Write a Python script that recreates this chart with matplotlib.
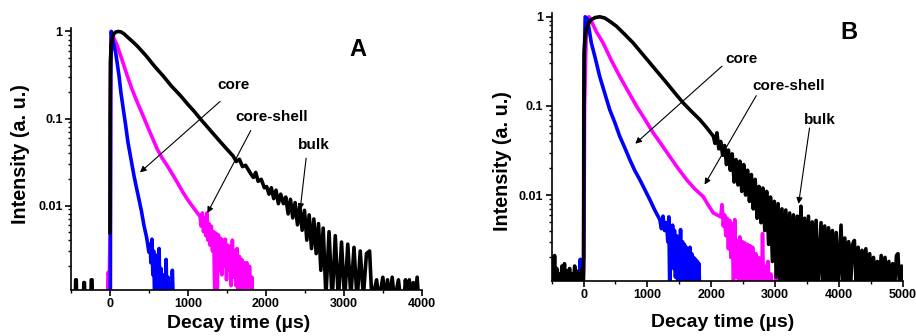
import numpy as np
import matplotlib
matplotlib.use("Agg")
import matplotlib.pyplot as plt
from matplotlib.ticker import FixedLocator, NullFormatter

plt.rcParams['font.family'] = ['Liberation Sans', 'DejaVu Sans']
plt.rcParams['font.weight'] = 'bold'

nan = np.nan

# ---- panel A: decay curves (time in us, normalised intensity) ----
core_A_t = [-10, 5, 10, 17, 30, 50, 73, 95, 116, 140, 171, 200, 231, 270, 308, 340,
            372, 405, 436, 470, 500, 515, 525, 539, 550, 560, 572, 585, 595, 607, 618,
            630, 640, 652, 665, 680, 692, 704, 712, 720, 730, 745, 760, 790, 800, 812]
core_A_I = [0.0008, 0.0008, 0.3, 1.0, 0.85, 0.7, 0.57, 0.42, 0.31, 0.2, 0.128, 0.085,
            0.053, 0.034, 0.022, 0.016, 0.0118, 0.0085, 0.0059, 0.0043, 0.0029, 0.0036,
            0.0022, 0.0041, 0.0016, 0.0030, 0.0009, 0.0027, 0.0012, 0.0026, 0.0008,
            0.0032, 0.0008, 0.0019, 0.0008, 0.0016, 0.0008, 0.0013, 0.0008, 0.0024,
            0.0008, 0.0015, 0.0008, 0.0008, 0.0018, 0.0008]

shell_A_t = [-30, -25, -8, -3, 3, 8, 15, 25, 40, 60, 94, 130, 170, 222, 280, 351, 420,
             479, 540, 607, 670, 736, 800, 864, 930, 993, 1050, 1100, 1155,
             1170, 1185, 1200, 1215, 1230, 1242, 1255, 1270, 1284, 1300, 1315, 1330,
             1345, 1360, 1375, 1390, 1405, 1420, 1435, 1450, 1465, 1480, 1495, 1510,
             1525, 1540, 1555, 1570, 1583, 1600, 1615, 1630, 1645, 1660, 1675, 1690,
             1705, 1720, 1735, 1755, 1770, 1790, 1805, 1820, 1830]
shell_A_I = [0.0008, 0.0017, 0.0015, 0.0030, 0.005, 0.4, 1.0, 0.97, 0.88, 0.8, 0.685,
             0.55, 0.43, 0.31, 0.22, 0.153, 0.11, 0.082, 0.061, 0.0444, 0.035, 0.0286,
             0.023, 0.0184, 0.0145, 0.0118, 0.0100, 0.0087, 0.0075,
             0.0058, 0.0082, 0.0050, 0.0072, 0.0045, 0.0082, 0.0040, 0.0062, 0.0035,
             0.0058, 0.0030, 0.0050, 0.0009, 0.0048, 0.0009, 0.0046, 0.0018, 0.0042,
             0.0016, 0.0040, 0.0020, 0.0041, 0.0014, 0.0035, 0.0018, 0.0034, 0.0012,
             0.0040, 0.0015, 0.0030, 0.0012, 0.0032, 0.0011, 0.0026, 0.0010, 0.0024,
             0.0009, 0.0022, 0.0009, 0.0022, 0.0009, 0.0020, 0.0009, 0.0015, 0.0008]

bulk_A_t = [-500, -445, -440, -432, -428, -340, -335, -327, -322, -245, -240, -230, -225,
            -100, 0, 2, 6, 15, 30, 50, 75, 105, 140, 180, 214, 280, 350, 460, 570, 680,
            790, 900, 1000, 1080, 1155, 1260, 1370, 1475, 1580,
            1620, 1660, 1700, 1740, 1800, 1840, 1870, 1900, 1940, 1980, 2010, 2040,
            2070, 2100, 2130, 2160, 2190, 2225, 2255, 2285, 2315, 2345, 2375, 2405,
            2435, 2465, 2495, 2525, 2555, 2585, 2615, 2645, 2675, 2705, 2735, 2770,
            2810, 2850, 2890, 2930, 2970, 3010, 3050, 3090, 3130, 3170, 3210, 3250,
            3290, 3330, 3360, 3420, 3450, 3500, 3530, 3560, 3590, 3620, 3650, 3700,
            3730, 3770, 3790, 3810, 3840, 3860, 3890, 3910, 3940, 3960]
bulk_A_I = [0.0008, 0.0008, 0.0014, 0.0014, 0.0008, 0.0008, 0.0013, 0.0013, 0.0008,
            0.0008, 0.0014, 0.0014, 0.0008,
            nan, 0.0049, 0.1, 0.45, 0.7, 0.85, 0.94, 0.985, 1.0, 0.99, 0.94, 0.88,
            0.78, 0.68, 0.53, 0.40, 0.31, 0.235, 0.185, 0.145, 0.121, 0.10, 0.078,
            0.060, 0.047, 0.037,
            0.032, 0.034, 0.028, 0.029, 0.0236, 0.021, 0.024, 0.019, 0.020, 0.016,
            0.0165, 0.0135, 0.016, 0.012, 0.015, 0.0105, 0.0135, 0.0105, 0.0125,
            0.0080, 0.0118, 0.0072, 0.0108, 0.0060, 0.0098, 0.0052, 0.0088, 0.0040,
            0.0078, 0.0032, 0.0070, 0.0028, 0.0062, 0.0018, 0.0055, 0.0009, 0.0050,
            0.0008, 0.0045, 0.0008, 0.0038, 0.0008, 0.0036, 0.0009, 0.0033, 0.0008,
            0.0030, 0.0009, 0.0028, 0.0030, 0.0008, 0.0014, 0.0008, 0.0015, 0.0008,
            0.0014, 0.0008, 0.0015, 0.0008, 0.0014, 0.0008, 0.0008, 0.0014, 0.0008,
            0.0014, 0.0008, 0.0013, 0.0008, 0.0015, 0.0008]

# ---- panel B ----
core_B_t = [-100, -60, -52, -45, -20, 0, 10, 25, 60, 90, 121, 180, 252, 330, 409, 490,
            566, 645, 724, 800, 881, 960, 1038, 1115, 1195, 1220, 1245, 1270, 1300,
            1320, 1336, 1350, 1365, 1380, 1395, 1410, 1425, 1440, 1458, 1475, 1490,
            1505, 1520, 1535, 1550, 1565, 1580, 1595, 1610, 1625, 1640, 1655, 1667,
            1680, 1695, 1710, 1725, 1740, 1755, 1770, 1785, 1800, 1808, 1820]
core_B_I = [0.0008, 0.0008, 0.0019, 0.0008, 0.0015, 0.002, 0.3, 1.0, 0.95, 0.7, 0.51,
            0.35, 0.215, 0.14, 0.091, 0.065, 0.0457, 0.034, 0.025, 0.019, 0.0149,
            0.0115, 0.0089, 0.0068, 0.0053, 0.0042, 0.0058, 0.0040, 0.0049, 0.0030,
            0.0057, 0.0009, 0.0045, 0.0020, 0.0046, 0.0015, 0.0040, 0.0012, 0.0035,
            0.0011, 0.0033, 0.0013, 0.0041, 0.0010, 0.0030, 0.0011, 0.0028, 0.0009,
            0.0026, 0.0011, 0.0024, 0.0009, 0.0026, 0.0010, 0.0022, 0.0009, 0.0020,
            0.0009, 0.0019, 0.0009, 0.0018, 0.0009, 0.0017, 0.0008]

shell_B_t = [-10, 5, 15, 40, 70, 84, 120, 200, 305, 430, 566, 700, 828, 960, 1091, 1220,
             1352, 1480, 1614, 1740, 1876, 1950, 2034, 2090, 2149, 2170, 2190, 2210,
             2230, 2250, 2270, 2290, 2310, 2330, 2350, 2370, 2390, 2412, 2430, 2450,
             2470, 2490, 2510, 2530, 2550, 2570, 2590, 2610, 2630, 2650, 2673, 2700,
             2720, 2740, 2760, 2790, 2805, 2820, 2850, 2870, 2890, 2910, 2936, 2960,
             3000, 3020, 3040, 3060, 3075]
shell_B_I = [0.0008, 0.002, 0.1, 0.6, 0.95, 1.0, 0.9, 0.68, 0.51, 0.33, 0.215, 0.145,
             0.10, 0.071, 0.05, 0.037, 0.027, 0.020, 0.0149, 0.0118, 0.0096, 0.0078,
             0.0063, 0.0060, 0.0057, 0.0078, 0.0045, 0.0060, 0.0035, 0.0055, 0.0025,
             0.0052, 0.0020, 0.0048, 0.0009, 0.0053, 0.0012, 0.0031, 0.0009, 0.0034,
             0.0010, 0.0030, 0.0009, 0.0029, 0.0009, 0.0028, 0.0009, 0.0027, 0.0009,
             0.0026, 0.0009, 0.0022, 0.0009, 0.0020, 0.0009, 0.0009, 0.0037, 0.0009,
             0.0016, 0.0009, 0.0018, 0.0009, 0.0013, 0.0008, 0.0008, 0.0014, 0.0008,
             0.0014, 0.0008]

bulk_B_t = [-500, -485, -470, -455, -440, -420, -400, -380, -360, -340, -320, -300,
            -280, -260, -240, -220, -200, -180, -160, -140, -120, -100, -80, -60, -40,
            -20, -5, 0, 3, 8, 20, 42, 80, 121, 180, 252, 330, 420, 514, 640, 776, 900,
            1038, 1170, 1300, 1430, 1562, 1690, 1824, 1930, 2034,
            2060, 2090, 2120, 2149, 2180, 2210, 2240, 2270, 2300, 2330, 2360, 2390,
            2420, 2450, 2480, 2510, 2540, 2570, 2600, 2630, 2660, 2690, 2720, 2750,
            2780, 2810, 2840, 2870, 2900, 2930, 2960, 2990, 3020, 3050, 3080, 3110,
            3140, 3170, 3198, 3230, 3260, 3290, 3320, 3350, 3380, 3407, 3435, 3465,
            3495, 3525, 3555, 3585, 3615, 3645, 3675, 3722, 3750, 3780, 3810, 3840,
            3870, 3900, 3930, 3960, 3990, 4036, 4065, 4095, 4125, 4155, 4185, 4215,
            4245, 4275, 4305, 4335, 4365, 4395, 4425, 4455, 4485, 4515, 4545, 4575,
            4605, 4635, 4665, 4695, 4725, 4755, 4785, 4815, 4845, 4875, 4905, 4928,
            4955, 4985, 5000]
bulk_B_I = [0.0009, 0.0020, 0.0010, 0.0021, 0.0009, 0.0015, 0.0009, 0.0013, 0.0009,
            0.0016, 0.0010, 0.0017, 0.0009, 0.0014, 0.0010, 0.0015, 0.0009, 0.0013,
            0.0010, 0.0016, 0.0009, 0.0014, 0.0010, 0.0013, 0.0009, 0.0015, 0.0010,
            0.0015, 0.1, 0.4, 0.55, 0.72, 0.85, 0.93, 0.98, 1.0, 0.97, 0.88, 0.785,
            0.64, 0.51, 0.40, 0.304, 0.235, 0.182, 0.14, 0.108, 0.087, 0.070, 0.057,
            0.0457,
            0.038, 0.050, 0.033, 0.040, 0.028, 0.036, 0.022, 0.032, 0.019, 0.029,
            0.014, 0.025, 0.013, 0.024, 0.011, 0.022, 0.010, 0.019, 0.0085, 0.017,
            0.0070, 0.015, 0.0055, 0.0125, 0.0049, 0.012, 0.0040, 0.011, 0.0028,
            0.0095, 0.0018, 0.0085, 0.0012, 0.0080, 0.0010, 0.0070, 0.0009, 0.0068,
            0.0009, 0.0063, 0.0009, 0.0060, 0.0009, 0.0058, 0.0009, 0.0075, 0.0009,
            0.0055, 0.0009, 0.0058, 0.0009, 0.0050, 0.0009, 0.0052, 0.0009, 0.0049,
            0.0009, 0.0045, 0.0009, 0.0043, 0.0009, 0.0040, 0.0009, 0.0038, 0.0009,
            0.0046, 0.0009, 0.0033, 0.0009, 0.0030, 0.0009, 0.0028, 0.0031, 0.0009,
            0.0026, 0.0009, 0.0024, 0.0009, 0.0025, 0.0009, 0.0022, 0.0009, 0.0020,
            0.0009, 0.0018, 0.0009, 0.0021, 0.0009, 0.0020, 0.0009, 0.0018, 0.0009,
            0.0017, 0.0009, 0.0021, 0.0022, 0.0009, 0.0016, 0.0009]


def style_axes(ax, xmax, ymin):
    ax.set_yscale('log')
    ax.set_xlim(-500, xmax)
    ax.set_ylim(ymin, 1.1)
    ax.spines['top'].set_visible(False)
    ax.spines['right'].set_visible(False)
    ax.spines['left'].set_linewidth(1.2)
    ax.spines['bottom'].set_linewidth(1.2)
    ax.set_yticks([0.01, 0.1, 1])
    ax.set_yticklabels(['0.01', '0.1', '1'])
    minors = [m * 10.0 ** e for e in (-3, -2, -1) for m in range(2, 10)]
    ax.yaxis.set_minor_locator(FixedLocator(minors))
    ax.yaxis.set_minor_formatter(NullFormatter())
    ax.set_xticks(np.arange(0, xmax + 1, 1000))
    ax.xaxis.set_minor_locator(FixedLocator(np.arange(-500, xmax + 1, 500)))
    ax.tick_params(which='major', direction='out', length=4, width=1.2,
                   labelsize=9, pad=2)
    ax.tick_params(which='minor', direction='out', length=2.5, width=1.0)
    for lab in ax.get_xticklabels() + ax.get_yticklabels():
        lab.set_fontweight('bold')


def arrow(ax, start, tip):
    ax.annotate('', xy=tip, xytext=start,
                arrowprops=dict(arrowstyle='-|>', color='black', lw=0.8,
                                mutation_scale=9, shrinkA=0, shrinkB=0))


fig = plt.figure(figsize=(9.16, 3.36), dpi=100)
axA = fig.add_axes([0.0775, 0.137, 0.383, 0.780])
axB = fig.add_axes([0.6023, 0.164, 0.383, 0.797])

lw = 2.6
axA.plot(shell_A_t, shell_A_I, color='#ff00ff', lw=lw)
axA.plot(core_A_t, core_A_I, color='#0000ff', lw=lw)
axA.plot(bulk_A_t, bulk_A_I, color='black', lw=lw)
style_axes(axA, 4000, 0.00107)

axB.plot(shell_B_t, shell_B_I, color='#ff00ff', lw=lw)
axB.plot(core_B_t, core_B_I, color='#0000ff', lw=lw)
axB.plot(bulk_B_t, bulk_B_I, color='black', lw=lw)
style_axes(axB, 5000, 0.00109)

for ax in (axA, axB):
    ax.set_xlabel('Decay time (µs)', fontsize=14, fontweight='bold')
    ax.set_ylabel('Intensity (a. u.)', fontsize=14.2, fontweight='bold')
axA.xaxis.set_label_coords(0.478, -0.095)
axA.yaxis.set_label_coords(-0.117, 0.52)
axB.xaxis.set_label_coords(0.486, -0.122)
axB.yaxis.set_label_coords(-0.114, 0.449)

tkw = dict(ha='center', va='center', fontsize=11, fontweight='bold')
axA.text(3180, 0.62, 'A', ha='center', va='center', fontsize=17, fontweight='bold')
axA.text(1580, 0.244, 'core', **tkw)
axA.text(2080, 0.105, 'core-shell', **tkw)
axA.text(2610, 0.049, 'bulk', **tkw)
arrow(axA, (1412, 0.157), (385, 0.024))
arrow(axA, (1806, 0.0728), (1249, 0.00818))
arrow(axA, (2516, 0.035), (2439, 0.0089))

axB.text(4154, 0.66, 'B', ha='center', va='center', fontsize=17, fontweight='bold')
axB.text(2483, 0.337, 'core', **tkw)
axB.text(3213, 0.166, 'core-shell', **tkw)
axB.text(3710, 0.069, 'bulk', **tkw)
arrow(axB, (2169, 0.279), (810, 0.0377))
arrow(axB, (2707, 0.1305), (1897, 0.0131))
arrow(axB, (3542, 0.0566), (3370, 0.00798))

fig.savefig('out.png', dpi=100)
